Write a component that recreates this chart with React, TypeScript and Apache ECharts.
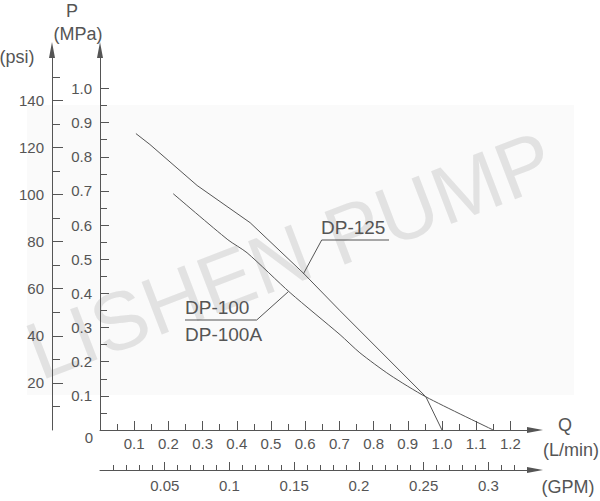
import React, { useEffect, useRef } from "react";
import * as echarts from "echarts";

const MPA_PER_PSI = 0.00689476;
const LPM_PER_GPM = 3.78541;

const X_MAX = 1.272; // L/min at arrow base
const Y_MAX = 1.1127; // MPa at arrow base

const lpmMajor = [0.1, 0.2, 0.3, 0.4, 0.5, 0.6, 0.7, 0.8, 0.9, 1.0, 1.1, 1.2];
const lpmMinor = [0.05, 0.15, 0.25, 0.35, 0.45, 0.55, 0.65, 0.75, 0.85, 0.95, 1.05, 1.15];
const gpmMajor = [0.05, 0.1, 0.15, 0.2, 0.25, 0.3];
const gpmMinor = [
  0.01, 0.02, 0.03, 0.04, 0.06, 0.07, 0.08, 0.09, 0.11, 0.12, 0.13, 0.14,
  0.16, 0.17, 0.18, 0.19, 0.21, 0.22, 0.23, 0.24, 0.26, 0.27, 0.28, 0.29,
  0.31, 0.32,
];
const mpaMajor = [0.1, 0.2, 0.3, 0.4, 0.5, 0.6, 0.7, 0.8, 0.9, 1.0];
const mpaMinor = [0.05, 0.15, 0.25, 0.35, 0.45, 0.55, 0.65, 0.75, 0.85, 0.95];
const psiMajor = [20, 40, 60, 80, 100, 120, 140];
const psiMinor = [10, 30, 50, 70, 90, 110, 130, 150];

// flow (L/min), pressure (MPa)
const dp125 = [
  [0.105, 0.868],
  [0.146, 0.836],
  [0.284, 0.716],
  [0.439, 0.607],
  [0.594, 0.46],
  [0.702, 0.349],
  [0.953, 0.097],
  [1.0, 0],
];
const dp100 = [
  [0.214, 0.692],
  [0.374, 0.557],
  [0.43, 0.519],
  [0.556, 0.402],
  [0.702, 0.279],
  [0.76, 0.226],
  [0.848, 0.161],
  [0.953, 0.097],
  [1.15, 0],
];

const FONT = "Liberation Sans";
const INK = "#555";

export default function App() {
  const ref = useRef<HTMLDivElement>(null);
  useEffect(() => {
    if (!ref.current) return;
    const chart = echarts.init(ref.current, undefined, { renderer: "svg" });
    const labelStyle = { color: INK, fontSize: 15, fontFamily: FONT };
    const txt = (text: string, x: number, y: number, size = 18, align = "center") => ({
      type: "text",
      x,
      y,
      style: { text, fontSize: size, fontFamily: FONT, fill: INK, align, verticalAlign: "middle" },
    });
    chart.setOption({
      animation: false,
      grid: { left: 100, right: 65, top: 50, bottom: 71, outerBoundsMode: "none" },
      xAxis: [
        {
          type: "value", min: 0, max: X_MAX, position: "bottom",
          splitLine: { show: false },
          axisLine: { show: true, lineStyle: { color: INK, width: 1 }, symbol: ["none", "triangle"], symbolSize: [6, 16] },
          axisTick: { show: true, inside: true, length: 9, customValues: lpmMajor, lineStyle: { color: INK } },
          axisLabel: { ...labelStyle, margin: 6, customValues: lpmMajor, formatter: (v: number) => v.toFixed(1) },
        },
        {
          type: "value", min: 0, max: X_MAX, position: "bottom",
          splitLine: { show: false },
          axisLine: { show: false },
          axisTick: { show: true, inside: true, length: 6, customValues: lpmMinor, lineStyle: { color: INK } },
          axisLabel: { show: false },
        },
        {
          type: "value", min: 0, max: X_MAX / LPM_PER_GPM, position: "bottom", offset: 40,
          splitLine: { show: false },
          axisLine: { show: true, onZero: false, lineStyle: { color: INK, width: 1 }, symbol: ["none", "triangle"], symbolSize: [6, 16] },
          axisTick: { show: true, inside: true, length: 8, customValues: gpmMajor, lineStyle: { color: INK } },
          axisLabel: { ...labelStyle, margin: 8, customValues: gpmMajor, formatter: (v: number) => String(+v.toFixed(2)) },
        },
        {
          type: "value", min: 0, max: X_MAX / LPM_PER_GPM, position: "bottom", offset: 40,
          splitLine: { show: false },
          axisLine: { show: false, onZero: false },
          axisTick: { show: true, inside: true, length: 5, customValues: gpmMinor, lineStyle: { color: INK } },
          axisLabel: { show: false },
        },
      ],
      yAxis: [
        {
          type: "value", min: 0, max: Y_MAX, position: "left",
          splitLine: { show: false },
          axisLine: { show: true, onZero: false, lineStyle: { color: INK, width: 1 }, symbol: ["none", "triangle"], symbolSize: [6, 16] },
          axisTick: { show: true, inside: true, length: 9, customValues: mpaMajor, lineStyle: { color: INK } },
          axisLabel: { ...labelStyle, margin: 8, customValues: mpaMajor, formatter: (v: number) => v.toFixed(1) },
        },
        {
          type: "value", min: 0, max: Y_MAX, position: "left",
          splitLine: { show: false },
          axisLine: { show: false, onZero: false },
          axisTick: { show: true, inside: true, length: 7, customValues: mpaMinor, lineStyle: { color: INK } },
          axisLabel: { show: false },
        },
        {
          type: "value", min: 0, max: Y_MAX / MPA_PER_PSI, position: "left", offset: 48,
          splitLine: { show: false },
          axisLine: { show: true, onZero: false, lineStyle: { color: INK, width: 1 }, symbol: ["none", "triangle"], symbolSize: [6, 16] },
          axisTick: { show: true, inside: true, length: 11, customValues: psiMajor, lineStyle: { color: INK } },
          axisLabel: { ...labelStyle, margin: 8, customValues: psiMajor },
        },
        {
          type: "value", min: 0, max: Y_MAX / MPA_PER_PSI, position: "left", offset: 48,
          splitLine: { show: false },
          axisLine: { show: false, onZero: false },
          axisTick: { show: true, inside: true, length: 8, customValues: psiMinor, lineStyle: { color: INK } },
          axisLabel: { show: false },
        },
      ],
      graphic: [
        { type: "rect", z: -10, shape: { x: 27, y: 105, width: 547, height: 290 }, style: { fill: "#fafafa" } },
        {
          type: "text", z: -5, x: 290, y: 255, rotation: (21 * Math.PI) / 180,
          style: { text: "LISHEN PUMP", fontSize: 82, fontFamily: FONT, fill: "#e2e2e2", align: "center", verticalAlign: "middle" },
        },
        txt("P", 72, 11),
        txt("(MPa)", 78, 34),
        txt("(psi)", 17, 57),
        txt("Q", 565, 425),
        txt("(L/min)", 571, 450),
        txt("(GPM)", 568, 487),
        txt("0", 89, 437, 15),
        txt("DP-125", 321, 227, 19, "left"),
        txt("DP-100", 185, 307, 19, "left"),
        txt("DP-100A", 185, 334, 19, "left"),
        {
          type: "polyline",
          shape: { points: [[389, 240], [321.7, 240], [303.3, 274]] },
          style: { stroke: INK, lineWidth: 1, fill: "none" },
        },
        {
          type: "polyline",
          shape: { points: [[185, 320], [256.7, 320], [288.3, 291.7]] },
          style: { stroke: INK, lineWidth: 1, fill: "none" },
        },
      ],
      series: [
        {
          name: "DP-125", type: "line", xAxisIndex: 0, yAxisIndex: 0, data: dp125,
          symbol: "none", lineStyle: { color: INK, width: 1 }, z: 5,
        },
        {
          name: "DP-100", type: "line", xAxisIndex: 0, yAxisIndex: 0, data: dp100, smooth: 0.25,
          symbol: "none", lineStyle: { color: INK, width: 1 }, z: 5,
        },
      ],
    });
    return () => chart.dispose();
  }, []);
  return <div ref={ref} style={{ position: "fixed", left: 0, top: 0, width: 600, height: 501, background: "#fff" }} />;
}
